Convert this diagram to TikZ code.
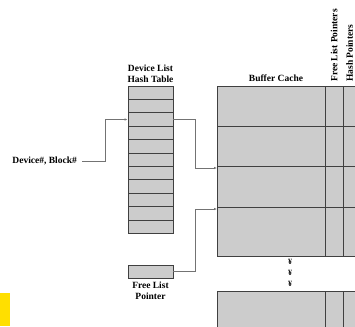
\documentclass[tikz,border=0pt]{standalone}
\usepackage{fontspec}
\setmainfont{Liberation Serif}
\usetikzlibrary{arrows.meta,positioning}
\definecolor{marker}{HTML}{FFDF00}

\begin{document}
\begin{tikzpicture}[
    x=1pt, y=-1pt,
    every node/.style={font=\fontsize{9.5}{11}\selectfont\bfseries},
    slot/.style={draw=black!75, line width=0.8pt, fill=black!20, minimum width=45pt, minimum height=13.4pt, inner sep=0pt},
    bufrow/.style={draw=black!75, line width=0.8pt, fill=black!20, minimum width=150pt, inner sep=0pt, anchor=north west},
    txt/.style={align=center, inner sep=1pt},
    link/.style={draw=black!55, line width=0.6pt, -{Latex[length=3pt,width=2.5pt]}}
]
\useasboundingbox (0,0) rectangle (355,326);
\clip (0,0) rectangle (355,326);

% Hash Table
\foreach \i in {1,...,11}
    \node[slot] (h\i) at (150.5, {86+13.4*\i-6.7}) {};
\node[txt, above=2pt of h1] (hashlbl) {Device List\\Hash Table};

% Free List Pointer
\node[slot, minimum height=13pt] (flp) at (150.5, 271.5) {};
\node[txt, below=2pt of flp] (flplbl) {Free List\\Pointer};

% Input
\node[txt, anchor=east] (dev) at (78,161) {Device\#, Block\#};

% Buffer Cache
\foreach \n/\y/\h in {1/86/40, 2/126/40, 3/166/41, 4/207/49, 5/291/40}
    \node[bufrow, minimum height=\h pt] (b\n) at (217,\y) {};
\foreach \x in {325,343} {
    \draw[draw=black!75, line width=0.8pt] (\x,86) -- (\x,256);
    \draw[draw=black!75, line width=0.8pt] (\x,291) -- (\x,331);
}
\node[txt, anchor=base] (buflbl) at (276,81.5) {Buffer Cache};
\node[txt, rotate=90, anchor=west] (fplbl) at (334,83) {Free List Pointers};
\node[txt, rotate=90, anchor=west] (hplbl) at (349.5,83) {Hash Pointers};

% More buffers
\foreach \y [count=\k] in {262,273,284}
    \node[font=\fontsize{8}{8}\selectfont\bfseries, inner sep=0pt] (dot\k) at (290,\y) {¥};

% Connections
\draw[link] ([xshift=4pt]dev.east) -- ++(23,0) |- (h3.west);
\draw[link] (h3.east) -- ++(22,0) |- ([yshift=-2pt]b3.north west);
\draw[link] (flp.east) -- ++(22,0) |- ([yshift=-2pt]b4.north west);

\fill[marker] (0,293) rectangle (10,326);

\end{tikzpicture}
\end{document}
